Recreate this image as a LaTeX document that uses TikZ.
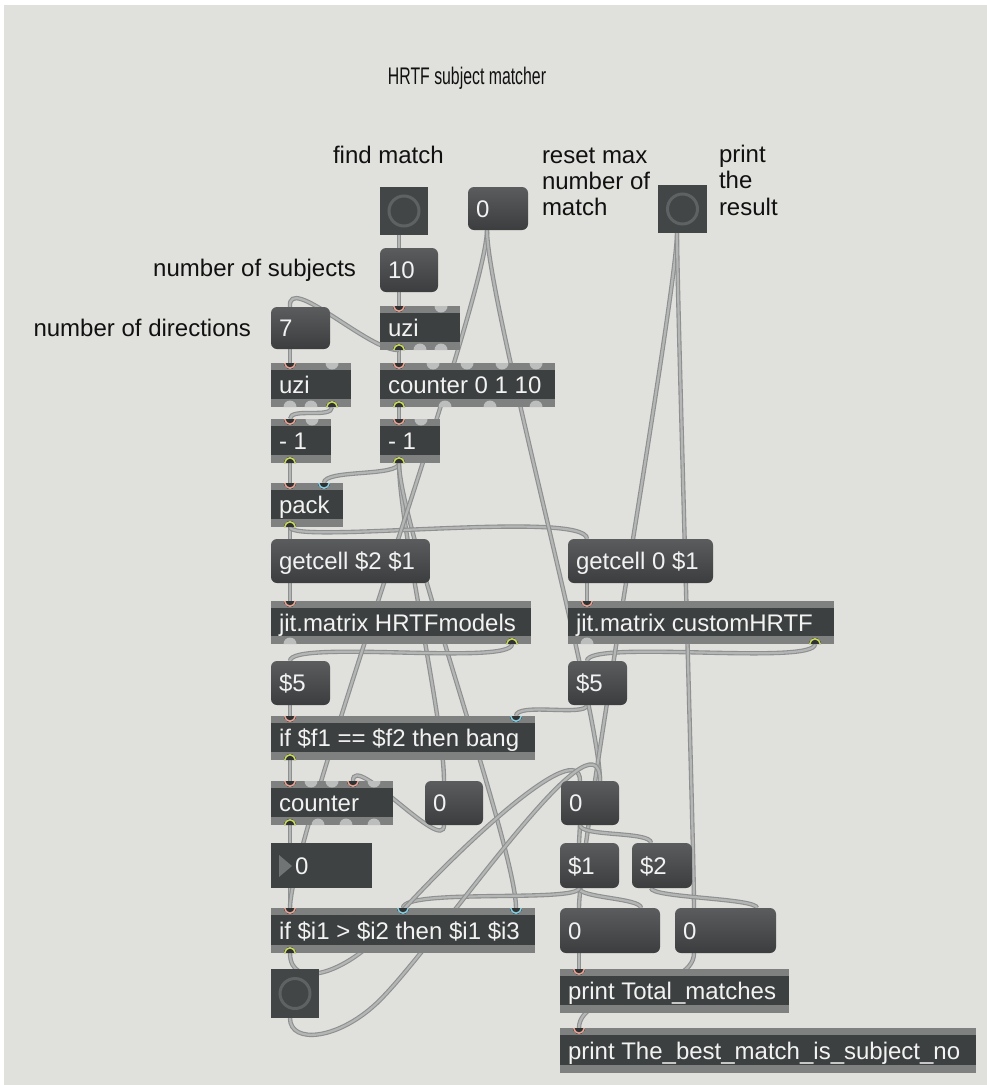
\documentclass[tikz,border=0pt]{standalone}
\usepackage{fontspec}
\setmainfont{Liberation Sans}

\definecolor{bgc}{HTML}{E0E0DC}
\definecolor{stripc}{HTML}{7F8181}
\definecolor{bodyc}{HTML}{3D4040}
\definecolor{msgtop}{HTML}{5A5C5E}
\definecolor{msgbot}{HTML}{3B3D3F}
\definecolor{btnc}{HTML}{434646}
\definecolor{btnring}{HTML}{5E6262}
\definecolor{nbc}{HTML}{3F4242}
\definecolor{trig}{HTML}{707474}
\definecolor{boxtxt}{HTML}{F2F2F2}
\definecolor{lbl}{HTML}{111111}
\definecolor{cordedge}{HTML}{8E9090}
\definecolor{cordfill}{HTML}{B4B6B6}
\definecolor{portgrey}{HTML}{BCBEBE}
\definecolor{portdark}{HTML}{2F3232}
\definecolor{pinkc}{HTML}{E9A293}
\definecolor{cyanc}{HTML}{86CFE2}
\definecolor{yelc}{HTML}{CCDA5C}

\newcommand\patchfont{\fontsize{24pt}{28pt}\selectfont}

\pgfdeclarelayer{bg}
\pgfdeclarelayer{cords}
\pgfsetlayers{bg,cords,main}

\tikzset{
  every node/.style={inner sep=0pt, outer sep=0pt},
  boxtext/.style={anchor=base west, text=boxtxt, font=\patchfont},
  lbltext/.style={text=lbl, font=\patchfont},
  objnode/.style={fill=stripc, anchor=north west},
  msgnode/.style={rounded corners=6pt, top color=msgtop, bottom color=msgbot, anchor=north west},
  cord/.style={draw=cordedge, double=cordfill, double distance=2.2pt, line width=1.1pt}
}

% object box: name, x, y, width, height, text
\newcommand\objbox[6]{%
  \node[objnode, minimum width=#4pt, minimum height=#5pt] (#1) at (#2,#3) {};
  \fill[bodyc] ([yshift=-7pt]#1.north west) rectangle ([yshift=8pt]#1.south east);
  \node[boxtext] (#1-t) at ([xshift=8pt,yshift=#5pt/2-8.6pt]#1.south west) {#6};
}
% message / number box: name, x, y, width, height, text
\newcommand\msgbox[6]{%
  \node[msgnode, minimum width=#4pt, minimum height=#5pt] (#1) at (#2,#3) {};
  \node[boxtext] (#1-t) at ([xshift=8pt,yshift=#5pt/2-8.6pt]#1.south west) {#6};
  \coordinate (#1-in) at ([xshift=19pt]#1.north west);
  \coordinate (#1-in2) at ([xshift=-19pt]#1.north east);
  \coordinate (#1-out) at ([xshift=19pt]#1.south west);
}
% bang button: name, x, y, width, height
\newcommand\bangbox[5]{%
  \node[fill=btnc, anchor=north west, minimum width=#4pt, minimum height=#5pt] (#1) at (#2,#3) {};
  \draw[btnring, line width=3pt] (#1.center) circle[radius=15pt];
  \coordinate (#1-in) at ([xshift=19pt]#1.north west);
  \coordinate (#1-out) at ([xshift=19pt]#1.south west);
}
% ports: free inlet / used inlet / free outlet / used outlet
\newcommand\inG[2]{\fill[portgrey] (#1-6.5,#2) arc[start angle=180,end angle=0,radius=6.5] -- cycle;}
\newcommand\inC[4]{%
  \coordinate (#1) at (#2,#3);
  \fill[portdark] (#2-6,#3) arc[start angle=180,end angle=0,radius=6] -- cycle;
  \draw[#4, line width=1.5pt] (#2-5.2,#3) arc[start angle=180,end angle=0,radius=5.2];}
\newcommand\outG[2]{\fill[portgrey] (#1-6.5,#2) arc[start angle=180,end angle=360,radius=6.5] -- cycle;}
\newcommand\outC[3]{%
  \coordinate (#1) at (#2,#3);
  \fill[portdark] (#2-6,#3) arc[start angle=180,end angle=360,radius=6] -- cycle;
  \draw[yelc, line width=1.5pt] (#2-5.2,#3) arc[start angle=180,end angle=360,radius=5.2];}

\begin{document}
\begin{tikzpicture}[x=1pt, y=-1pt]
\useasboundingbox (0,0) rectangle (987,1085);
\begin{pgfonlayer}{bg}
  \fill[white] (0,0) rectangle (987,1085);
  \fill[bgc] (4,5) rectangle (987,1085);
\end{pgfonlayer}

% comments
\node[lbltext, anchor=base] (title) at (467,84) {\scalebox{0.66}[1]{HRTF subject matcher}};
\node[lbltext, anchor=base west] (lfind) at (333,163) {find match};
\node[lbltext, anchor=base west] (lreset1) at (542,163) {reset max};
\node[lbltext, anchor=base west] (lreset2) at (542,189) {number of};
\node[lbltext, anchor=base west] (lreset3) at (542,215) {match};
\node[lbltext, anchor=base west] (lprint1) at (719,162) {print};
\node[lbltext, anchor=base west] (lprint2) at (719,188) {the};
\node[lbltext, anchor=base west] (lprint3) at (719,215) {result};
\node[lbltext, anchor=base east] (lsubj) at (356,276) {number of subjects};
\node[lbltext, anchor=base east] (ldir) at (251,336) {number of directions};

% buttons
\bangbox{bFind}{380}{187}{48}{48}
\bangbox{bPrint}{658}{185}{49}{48}
\bangbox{bBot}{271}{969}{48}{49}

% message and number boxes
\msgbox{n10}{380}{248}{58}{44}{10}
\msgbox{n0r}{468}{187}{60}{43}{0}
\msgbox{n7}{271}{307}{59}{42}{7}
\msgbox{gc1}{271}{539}{159}{44}{getcell \$2 \$1}
\msgbox{gc2}{568}{539}{145}{44}{getcell 0 \$1}
\msgbox{d5L}{271}{661}{59}{44}{\$5}
\msgbox{d5R}{568}{661}{59}{44}{\$5}
\msgbox{z0m}{425}{781}{58}{44}{0}
\msgbox{z0r}{561}{781}{58}{44}{0}
\msgbox{d1}{560}{843}{59}{45}{\$1}
\msgbox{d2}{632}{843}{60}{45}{\$2}
\msgbox{w0L}{560}{908}{100}{45}{0}
\msgbox{w0R}{675}{908}{101}{45}{0}

% number box with triangle
\node[fill=nbc, anchor=north west, minimum width=101pt, minimum height=45pt] (nTri) at (271,843) {};
\fill[trig] (279,855) -- (292,866) -- (279,877) -- cycle;
\node[boxtext] (nTri-t) at (295,874) {0};
\coordinate (nTri-in) at ([xshift=19pt]nTri.north west);
\coordinate (nTri-out) at ([xshift=19pt]nTri.south west);

% objects
\objbox{uziT}{380}{306}{80}{44}{uzi}
\inC{uziT-i0}{399}{306}{pinkc}\inG{441}{306}
\outC{uziT-o0}{399}{350}\outG{420}{350}\outG{441}{350}

\objbox{uziL}{271}{363}{80}{44}{uzi}
\inC{uziL-i0}{290}{363}{pinkc}\inG{332}{363}
\outG{290}{407}\outG{311}{407}\outC{uziL-o2}{332}{407}

\objbox{cnt}{380}{363}{175}{44}{counter 0 1 10}
\inC{cnt-i0}{399}{363}{pinkc}\inG{433}{363}\inG{467}{363}\inG{502}{363}\inG{536}{363}
\outC{cnt-o0}{399}{407}\outG{445}{407}\outG{490}{407}\outG{536}{407}

\objbox{m1L}{271}{419}{60}{44}{- 1}
\inC{m1L-i0}{290}{419}{pinkc}\inG{312}{419}\outC{m1L-o0}{290}{463}

\objbox{m1R}{380}{419}{60}{44}{- 1}
\inC{m1R-i0}{399}{419}{pinkc}\inG{421}{419}\outC{m1R-o0}{399}{463}

\objbox{pack}{271}{483}{72}{44}{pack}
\inC{pack-i0}{290}{483}{pinkc}\inC{pack-i1}{324}{483}{cyanc}\outC{pack-o0}{290}{527}

\objbox{jitH}{271}{601}{260}{43}{jit.matrix HRTFmodels}
\inC{jitH-i0}{290}{601}{pinkc}\outG{290}{644}\outC{jitH-o1}{512}{644}

\objbox{jitC}{568}{601}{266}{43}{jit.matrix customHRTF}
\inC{jitC-i0}{587}{601}{pinkc}\outG{587}{644}\outC{jitC-o1}{815}{644}

\objbox{ifF}{271}{716}{264}{44}{if \$f1 == \$f2 then bang}
\inC{ifF-i0}{290}{716}{pinkc}\inC{ifF-i1}{516}{716}{cyanc}\outC{ifF-o0}{290}{760}

\objbox{cntB}{271}{781}{122}{44}{counter}
\inC{cntB-i0}{290}{781}{pinkc}\inG{311}{781}\inG{332}{781}\inC{cntB-i3}{353}{781}{pinkc}\inG{374}{781}
\outC{cntB-o0}{290}{825}\outG{318}{825}\outG{346}{825}\outG{374}{825}

\objbox{ifI}{271}{908}{264}{45}{if \$i1 > \$i2 then \$i1 \$i3}
\inC{ifI-i0}{290}{908}{pinkc}\inC{ifI-i1}{403}{908}{cyanc}\inC{ifI-i2}{516}{908}{cyanc}\outC{ifI-o0}{290}{953}

\objbox{prT}{560}{969}{229}{44}{print Total\_matches}
\inC{prT-i0}{579}{969}{pinkc}

\objbox{prB}{560}{1028}{416}{45}{print The\_best\_match\_is\_subject\_no}
\inC{prB-i0}{579}{1028}{pinkc}

% patch cords, drawn under the boxes
\begin{pgfonlayer}{cords}
\draw[cord] (bFind-out) -- (n10-in);
\draw[cord] (n10-out) -- (uziT-i0);
\draw[cord] (uziT-o0) -- (cnt-i0);
\draw[cord] (uziT-o0) .. controls (370,352) and (287,272) .. (n7-in);
\draw[cord] (n7-out) -- (uziL-i0);
\draw[cord] (uziL-o2) .. controls +(0,12) and +(0,-12) .. (m1L-i0);
\draw[cord] (cnt-o0) -- (m1R-i0);
\draw[cord] (m1L-o0) -- (pack-i0);
\draw[cord] (m1R-o0) .. controls +(0,14) and +(0,-14) .. (pack-i1);
\draw[cord] (m1R-o0) .. controls +(0,60) and +(0,-60) .. (z0m-in);
\draw[cord] (m1R-o0) .. controls +(0,60) and +(0,-60) .. (ifI-i2);
\draw[cord] (pack-o0) -- (gc1-in);
\draw[cord] (pack-o0) .. controls +(0,18) and +(0,-30) .. (gc2-in);
\draw[cord] (gc1-out) -- (jitH-i0);
\draw[cord] (gc2-out) -- (jitC-i0);
\draw[cord] (jitH-o1) .. controls +(0,22) and +(0,-22) .. (d5L-in);
\draw[cord] (jitC-o1) .. controls +(0,22) and +(0,-22) .. (d5R-in);
\draw[cord] (d5L-out) -- (ifF-i0);
\draw[cord] (d5R-out) .. controls +(0,12) and +(0,-14) .. (ifF-i1);
\draw[cord] (ifF-o0) -- (cntB-i0);
\draw[cord] (cntB-o0) -- (nTri-in);
\draw[cord] (nTri-out) -- (ifI-i0);
\draw[cord] (z0m-out) .. controls +(0,30) and +(0,-30) .. (cntB-i3);
\draw[cord] (n0r-out) .. controls +(0,70) and +(0,-70) .. (ifI-i0);
\draw[cord] (n0r-out) .. controls +(0,70) and +(0,-70) .. (z0r-in2);
\draw[cord] (bPrint-out) .. controls +(0,60) and +(0,-60) .. (w0L-in);
\draw[cord] (bPrint-out) .. controls +(0,60) and +(0,-60) .. (w0R-in);
\draw[cord] (z0r-out) -- (d1-in);
\draw[cord] (z0r-out) .. controls +(0,12) and +(0,-12) .. (d2-in);
\draw[cord] (d1-out) .. controls +(0,10) and +(0,-10) .. (w0L-in2);
\draw[cord] (d1-out) .. controls +(0,15) and +(0,-20) .. (ifI-i1);
\draw[cord] (d2-out) .. controls +(0,10) and +(0,-10) .. (w0R-in2);
\draw[cord] (w0L-out) -- (prT-i0);
\draw[cord] (w0R-out) .. controls +(0,40) and +(0,-40) .. (prB-i0);
\draw[cord] (ifI-o0) .. controls +(0,37) and (345,975) .. (385,930)
            .. controls (460,845) and (580,735) .. (z0r-in);
\draw[cord] (bBot-out) .. controls +(0,27) and (340,1040) .. (380,1000)
            .. controls (440,940) and (600,700) .. (z0r-in2);
\end{pgfonlayer}
\end{tikzpicture}
\end{document}
